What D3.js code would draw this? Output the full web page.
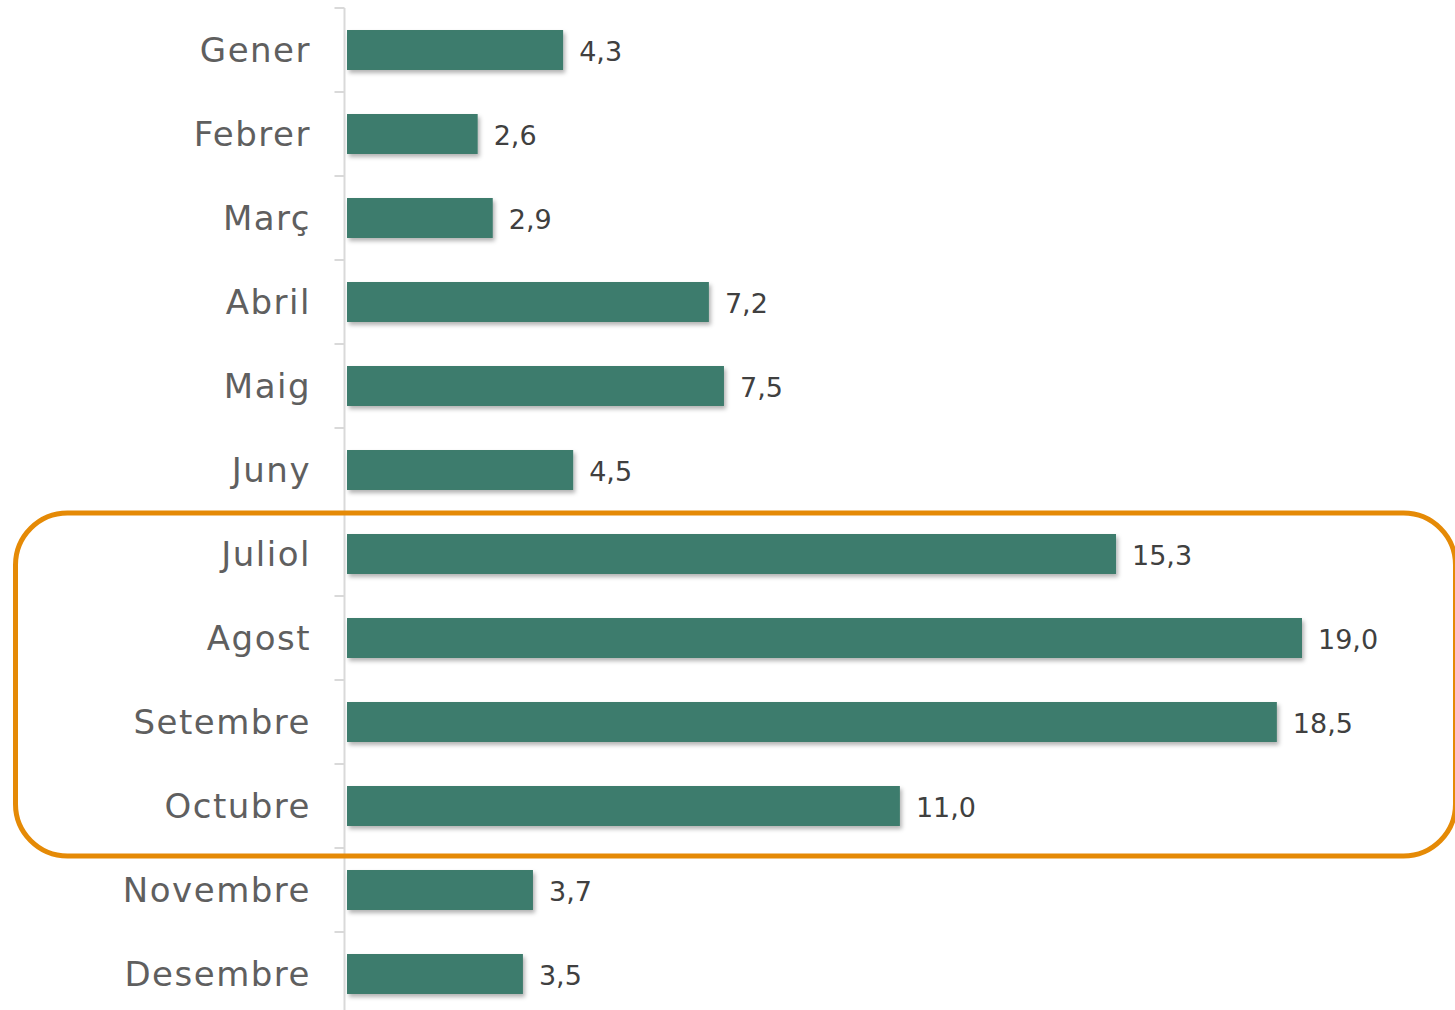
<!DOCTYPE html>
<html>
<head>
<meta charset="utf-8">
<script src="https://cdn.jsdelivr.net/npm/d3@7"></script>
<style>
  html, body { margin: 0; padding: 0; background: #ffffff; }
  svg { display: block; }
</style>
</head>
<body>
<svg id="chart_svg" width="1455" height="1010"></svg>
<script>
// months shown on the vertical axis
const months = ["Gener", "Febrer", "Març", "Abril", "Maig", "Juny",
                "Juliol", "Agost", "Setembre", "Octubre", "Novembre", "Desembre"]

// value per month (%)
const values = [4.3, 2.6, 2.9, 7.2, 7.5, 4.5, 15.3, 19.0, 18.5, 11.0, 3.7, 3.5]

// months inside the highlighted frame
const highlighted = ["Juliol", "Agost", "Setembre", "Octubre"]

const data = months.map((m, i) => ({ month: m, value: values[i] }))

const svg = d3.select("#chart_svg")

/**
 * Scales: one band per month, linear length for the bars
 */
const yScale = d3.scaleBand()
    .domain(months)
    .range([8, 1016])
    .padding(0)

const xScale = d3.scaleLinear()
    .domain([0, 19])
    .range([347, 1302])

const axisX = 344.5
const barH = yScale.bandwidth() * 0.476

/**
 * Soft shadow under the bars
 */
const defs = svg.append("defs")
defs.append("filter")
    .attr("id", "bar_shadow")
    .attr("x", "-5%").attr("y", "-30%")
    .attr("width", "110%").attr("height", "170%")
    .append("feDropShadow")
    .attr("dx", 2).attr("dy", 3)
    .attr("stdDeviation", 2)
    .attr("flood-color", "#000")
    .attr("flood-opacity", 0.3)

/**
 * Axis line and tick marks at the band boundaries
 */
const g_axis = svg.append("g")
const boundaries = months.map(m => yScale(m)).concat([yScale.range()[1]])

g_axis.append("line")
    .attr("x1", axisX).attr("x2", axisX)
    .attr("y1", yScale.range()[0]).attr("y2", yScale.range()[1])
    .attr("stroke", "#d9d9d9")
    .attr("stroke-width", 2)

g_axis.selectAll(".tick_mark")
    .data(boundaries)
    .enter()
    .append("line")
    .attr("class", "tick_mark")
    .attr("x1", axisX - 10).attr("x2", axisX)
    .attr("y1", d => d).attr("y2", d => d)
    .attr("stroke", "#d9d9d9")
    .attr("stroke-width", 2)

/**
 * Month labels
 */
svg.append("g")
    .selectAll(".month_label")
    .data(data)
    .enter()
    .append("text")
    .attr("class", "month_label")
    .attr("x", 311)
    .attr("y", d => yScale(d.month) + yScale.bandwidth() / 2)
    .attr("dy", "0.34em")
    .attr("text-anchor", "end")
    .attr("font-family", "'DejaVu Sans', sans-serif")
    .attr("font-size", 34)
    .attr("letter-spacing", 1.5)
    .attr("fill", "#5f5f5f")
    .text(d => d.month)

/**
 * Bars
 */
svg.append("g")
    .selectAll(".bar")
    .data(data)
    .enter()
    .append("rect")
    .attr("class", "bar")
    .attr("x", xScale(0))
    .attr("y", d => yScale(d.month) + (yScale.bandwidth() - barH) / 2)
    .attr("width", d => xScale(d.value) - xScale(0))
    .attr("height", barH)
    .attr("fill", "#3e7c6d")
    .attr("filter", "url(#bar_shadow)")

/**
 * Value labels, with a decimal comma
 */
const fmt = d3.formatLocale({ decimal: ",", thousands: ".", grouping: [3], currency: ["", "€"] }).format(".1f")

svg.append("g")
    .selectAll(".value_label")
    .data(data)
    .enter()
    .append("text")
    .attr("class", "value_label")
    .attr("x", d => xScale(d.value) + 16)
    .attr("y", d => yScale(d.month) + yScale.bandwidth() / 2)
    .attr("dy", "0.42em")
    .attr("font-family", "'DejaVu Sans', sans-serif")
    .attr("font-size", 27)
    .attr("fill", "#404040")
    .text(d => fmt(d.value))

/**
 * Rounded frame around the summer months
 */
const first = highlighted[0]
const last = highlighted[highlighted.length - 1]
svg.append("rect")
    .attr("x", 15.5)
    .attr("y", yScale(first) + 1)
    .attr("width", 1440)
    .attr("height", yScale(last) + yScale.bandwidth() - yScale(first) + 7)
    .attr("rx", 52)
    .attr("ry", 52)
    .attr("fill", "none")
    .attr("stroke", "#e58a06")
    .attr("stroke-width", 5)
</script>
</body>
</html>
